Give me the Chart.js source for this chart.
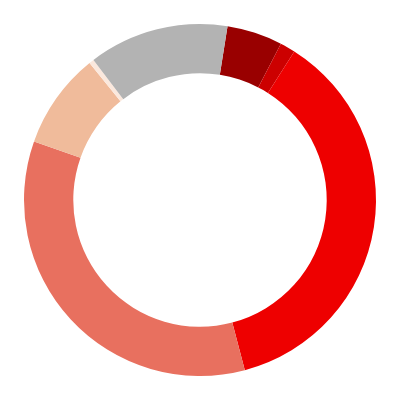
<!DOCTYPE html>
<html>
<head>
<meta charset="utf-8">
<script src="https://cdn.jsdelivr.net/npm/chart.js@4"></script>
<style>
  html, body { margin: 0; padding: 0; background: #fff; }
  #wrap { width: 400px; height: 400px; }
</style>
</head>
<body>
<div id="wrap"><canvas id="donutChart"></canvas></div>
<script>
const labels = ['A', 'B', 'C', 'D', 'E', 'F', 'G'];
const shares = [5.1, 1.4, 36.9, 34.5, 8.8, 0.45, 12.85];
const colors = ['#990000', '#cc0000', '#ee0000', '#e8705f', '#f0bb9b', '#fbe8dd', '#b3b3b3'];

document.addEventListener('DOMContentLoaded', function() {
    const ctx = document.getElementById('donutChart').getContext('2d');
    new Chart(ctx, {
        type: 'doughnut',
        data: {
            labels: labels,
            datasets: [{
                data: shares,
                backgroundColor: colors,
                borderWidth: 0
            }]
        },
        options: {
            responsive: true,
            maintainAspectRatio: false,
            animation: false,
            rotation: 9,
            cutout: '72%',
            layout: { padding: 24 },
            plugins: {
                legend: { display: false },
                tooltip: { enabled: false }
            }
        }
    });
});
</script>
</body>
</html>
